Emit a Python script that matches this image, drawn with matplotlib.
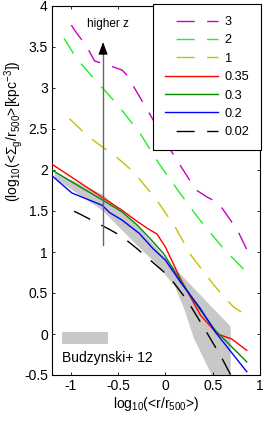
import matplotlib
matplotlib.use("Agg")
from matplotlib import pyplot as plt
from matplotlib.patches import Rectangle

plt.rcParams["font.family"] = ["Liberation Sans", "DejaVu Sans"]
plt.rcParams["mathtext.fontset"] = "custom"
plt.rcParams["mathtext.rm"] = "Liberation Sans"
plt.rcParams["mathtext.it"] = "Liberation Sans:italic"

#%% data
z3_x = [-1.06, -0.94, -0.84, -0.75, -0.585, -0.46, -0.41, -0.2, 0.05, 0.32, 0.44, 0.56, 0.62, 0.76, 0.86]
z3_y = [3.88, 3.67, 3.52, 3.33, 3.27, 3.22, 3.16, 2.75, 2.25, 1.76, 1.67, 1.60, 1.50, 1.27, 1.03]

z2_x = [-1.135, -0.94, -0.79, -0.51, -0.27, -0.07, 0.14, 0.35, 0.60, 0.86]
z2_y = [3.72, 3.36, 3.16, 2.80, 2.45, 2.08, 1.74, 1.41, 1.06, 0.75]

z1_x = [-1.10, -0.82, -0.51, -0.34, -0.09, 0.11, 0.27, 0.51, 0.63, 0.72, 0.80]
z1_y = [2.72, 2.41, 2.15, 1.98, 1.63, 1.29, 0.96, 0.60, 0.44, 0.33, 0.27]

z035_x = [-1.2, -0.66, -0.46, -0.32, -0.18, -0.09, 0.0, 0.16, 0.37, 0.55, 0.70, 0.86]
z035_y = [2.07, 1.66, 1.51, 1.39, 1.28, 1.22, 1.06, 0.67, 0.23, 0.0, -0.06, -0.20]

z03_x = [-1.2, -0.94, -0.66, -0.46, -0.30, -0.16, -0.02, 0.16, 0.37, 0.53, 0.86]
z03_y = [2.00, 1.82, 1.63, 1.49, 1.33, 1.16, 0.98, 0.65, 0.29, 0.04, -0.34]

z02_x = [-1.2, -0.99, -0.67, -0.59, -0.46, -0.28, -0.13, 0.0, 0.16, 0.37, 0.53, 0.86]
z02_y = [1.93, 1.72, 1.57, 1.48, 1.39, 1.23, 1.04, 0.90, 0.63, 0.31, 0.02, -0.46]

z002_x = [-1.08, -0.99, -0.9, -0.6, -0.46, -0.30, -0.02, 0.085, 0.23, 0.41, 0.59, 0.70]
z002_y = [1.49, 1.51, 1.46, 1.28, 1.19, 1.04, 0.76, 0.63, 0.41, 0.07, -0.28, -0.52]

band_up_x = [-1.17, -0.66, -0.3, 0.05, 0.69]
band_up_y = [1.97, 1.70, 1.32, 0.86, 0.09]
band_lo_x = [-1.17, -0.66, -0.3, -0.1, 0.1, 0.2, 0.3, 0.51, 0.69]
band_lo_y = [1.90, 1.50, 1.08, 0.86, 0.58, 0.30, -0.05, -0.55, -0.55]

arrow_x = -0.66
arrow_y = (1.09, 3.56)

series = [
    ("3", z3_x, z3_y, "#c800c8", True),
    ("2", z2_x, z2_y, "#22ee22", True),
    ("1", z1_x, z1_y, "#c8c000", True),
    ("0.35", z035_x, z035_y, "#ff0000", False),
    ("0.3", z03_x, z03_y, "#008a00", False),
    ("0.2", z02_x, z02_y, "#0000ff", False),
    ("0.02", z002_x, z002_y, "#000000", True),
]

#%%
fig = plt.figure(figsize=(2.66, 4.25), dpi=100)
ax = fig.add_axes([52 / 266, 50 / 425, 208 / 266, 369 / 425])

ax.fill(band_up_x + band_lo_x[::-1], band_up_y + band_lo_y[::-1],
        color="#c8c8c8", lw=0, zorder=1)

for name, x, y, c, dashed in series:
    if dashed:
        ax.plot(x, y, color=c, lw=1.0, linestyle=(14, (13, 9)), label=name, zorder=3)
    else:
        ax.plot(x, y, color=c, lw=1.0, label=name, zorder=3)

# arrow: grey shaft, black head
ax.plot([arrow_x, arrow_x], [arrow_y[0], arrow_y[1] - 0.1], color="#666666", lw=1.0, zorder=4)
ax.annotate("", xy=(arrow_x, arrow_y[1]), xytext=(arrow_x, arrow_y[1] - 0.15),
            arrowprops=dict(arrowstyle="-|>,head_length=0.75,head_width=0.28",
                            color="k", lw=0.8, shrinkA=0, shrinkB=0),
            zorder=4)
ax.text(-0.61, 3.78, "higher z", fontsize=8.5, ha="center", va="center")

ax.add_patch(Rectangle((0.048, 0.084), 0.221, 0.033, transform=ax.transAxes,
                       color="#c8c8c8", lw=0))
ax.text(0.048, 0.046, "Budzynski+ 12", transform=ax.transAxes, fontsize=10,
        ha="left", va="center")

ax.set_xlim(-1.2, 1.0)
ax.set_ylim(-0.5, 4.0)
ax.set_xticks([-1, -0.5, 0, 0.5, 1])
ax.set_xticklabels(["-1", "-0.5", "0", "0.5", "1"])
ax.set_yticks([-0.5, 0, 0.5, 1, 1.5, 2, 2.5, 3, 3.5, 4])
ax.set_yticklabels(["-0.5", "0", "0.5", "1", "1.5", "2", "2.5", "3", "3.5", "4"])
ax.tick_params(direction="in", top=True, right=True, length=2.5, width=0.6,
               labelsize=10, pad=3)
for s in ax.spines.values():
    s.set_linewidth(0.8)

ax.set_xlabel(r"log$_{\mathrm{10}}$(<r/r$_{\mathrm{500}}$>)", fontsize=10, labelpad=1)
ax.set_ylabel(r"(log$_{\mathrm{10}}$(<$\mathrm{\Sigma_g}$/r$_{\mathrm{500}}$>[kpc$^{\mathrm{-3}}$])",
              fontsize=10)
ax.yaxis.set_label_coords(-0.128, 0.66)

leg = ax.legend(loc="upper right", bbox_to_anchor=(1 + 1 / 208, 1 + 1.5 / 369),
                borderaxespad=0, fancybox=False, edgecolor="k", framealpha=1,
                fontsize=9.2, handlelength=4.2, handletextpad=0.5,
                labelspacing=0.5, borderpad=0.9)
leg.get_frame().set_linewidth(0.8)
leg.set_zorder(5)

fig.savefig("out.png", dpi=100)
